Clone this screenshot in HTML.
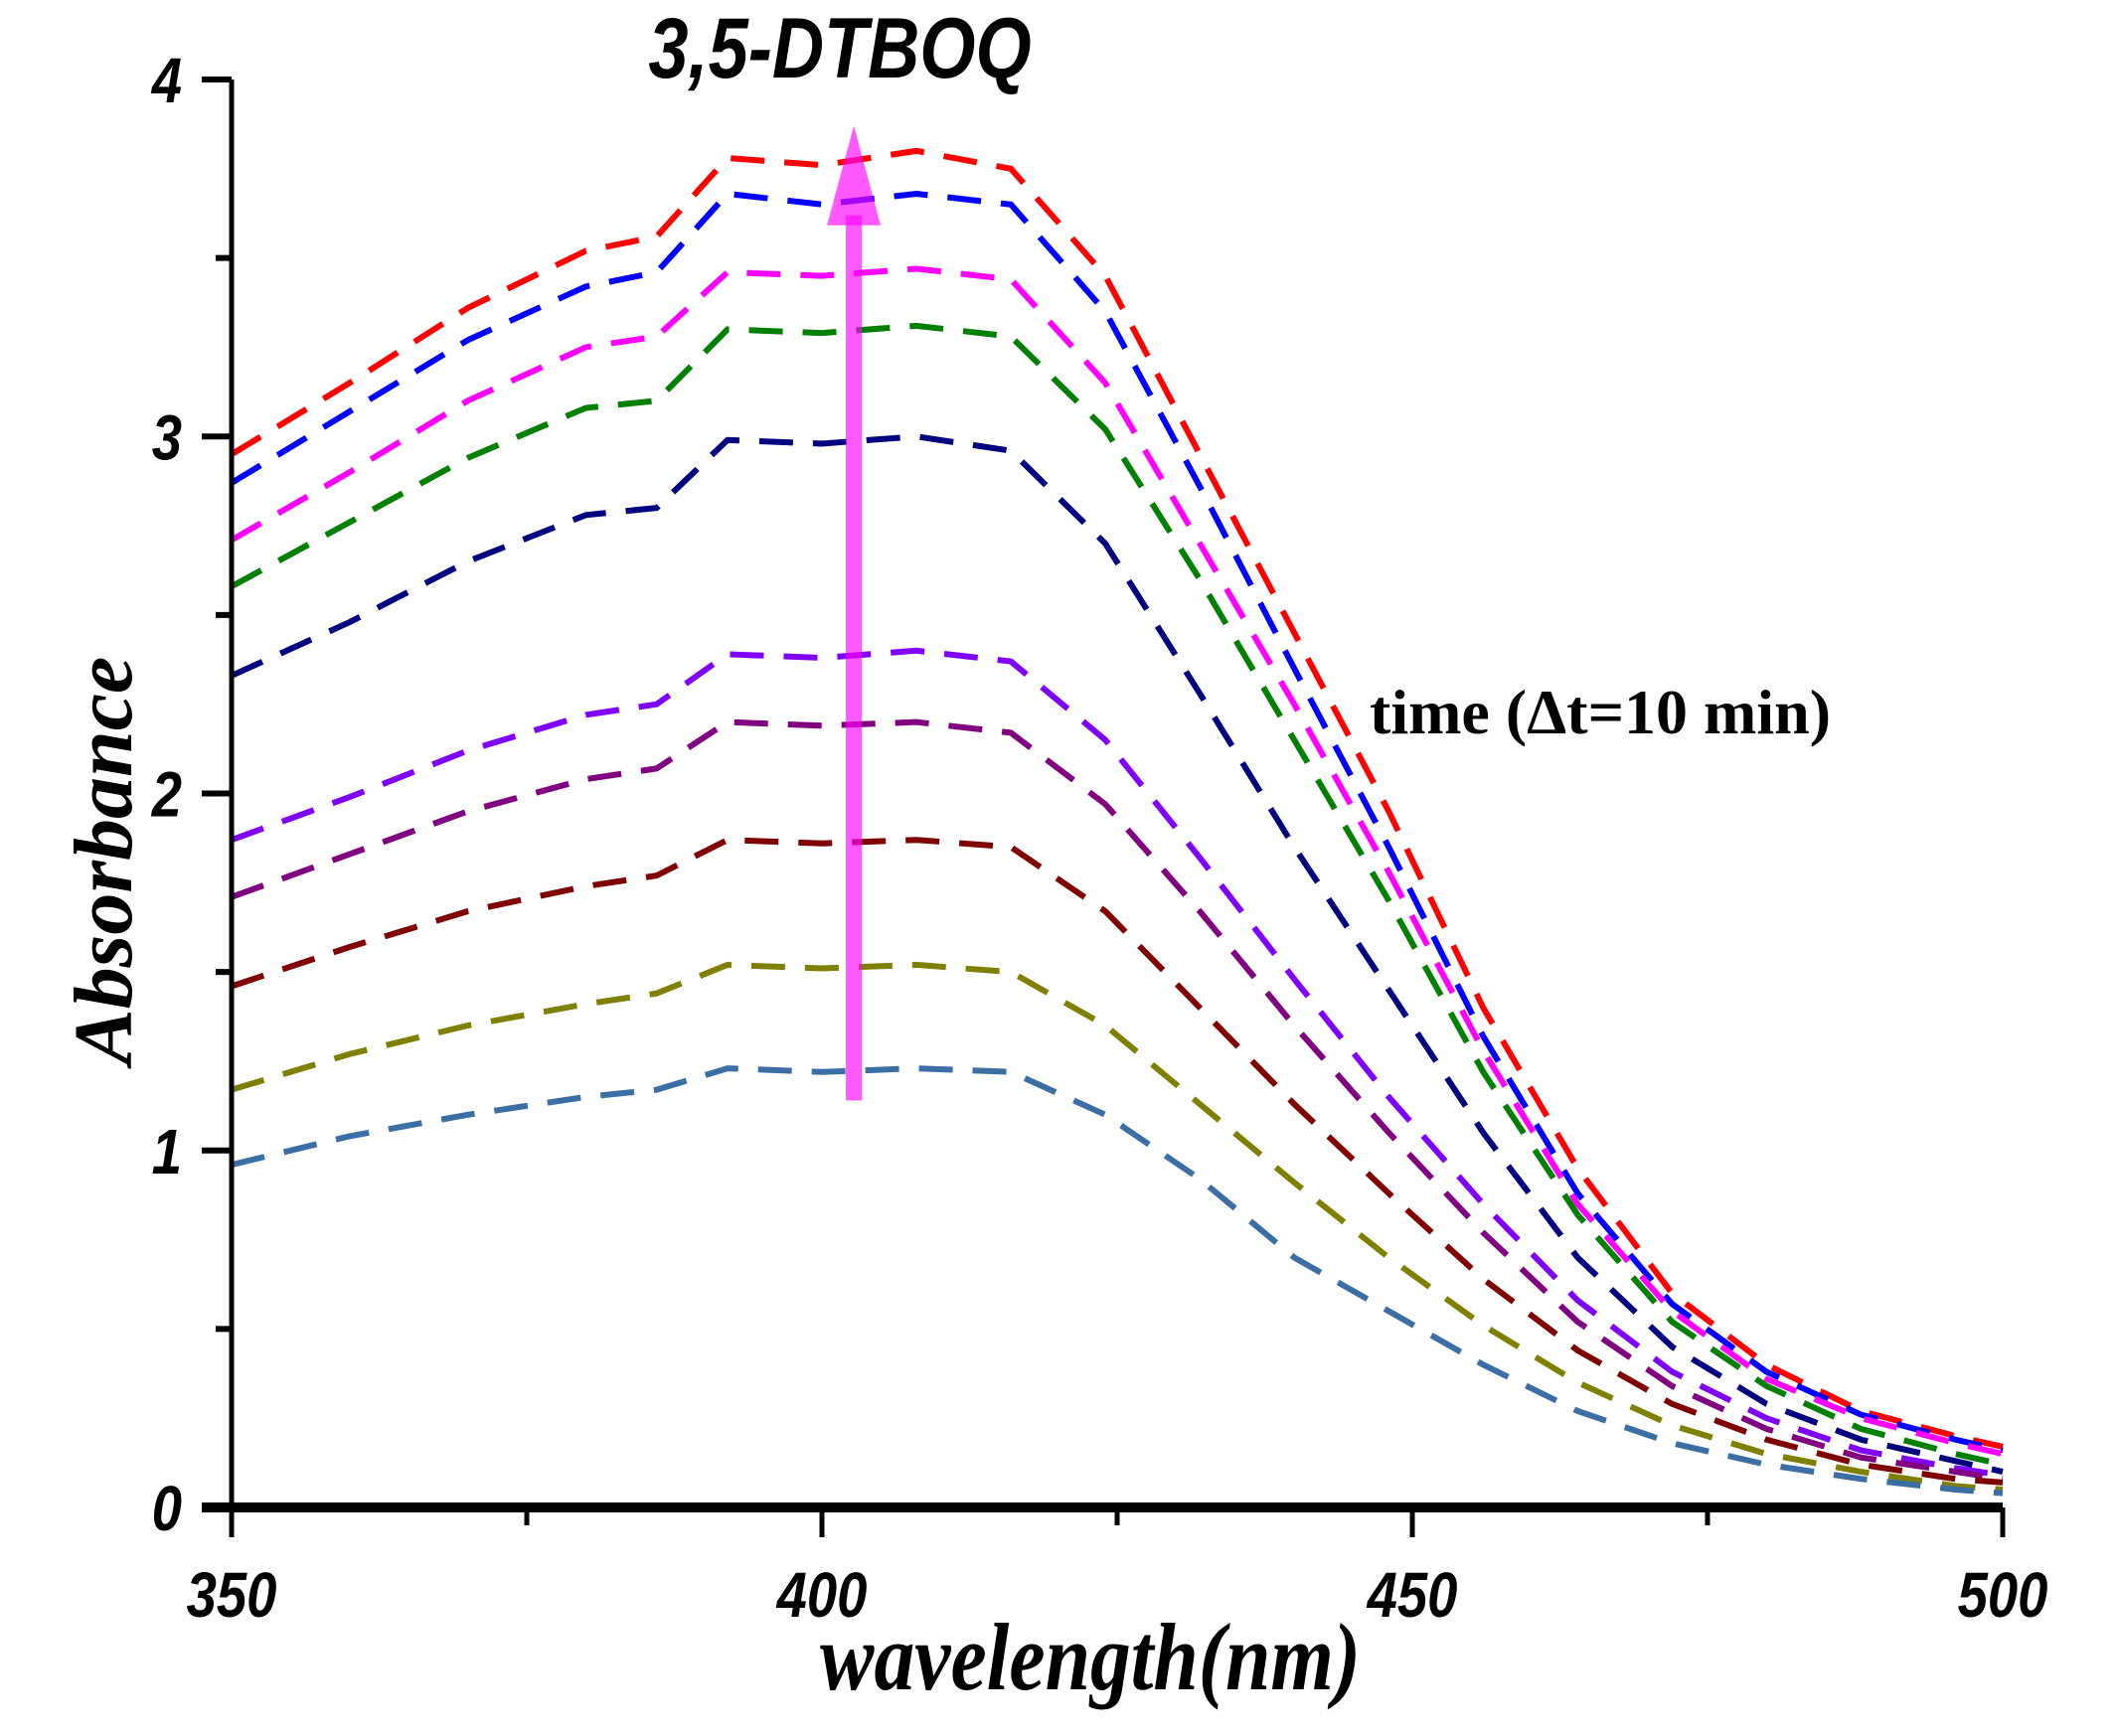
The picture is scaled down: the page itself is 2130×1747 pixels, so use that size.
<!DOCTYPE html>
<html><head><meta charset="utf-8"><style>
html,body{margin:0;padding:0;background:#fff;}
svg text{font-family:"Liberation Sans",sans-serif;}
</style></head><body>
<svg id="chart" width="2130" height="1742" viewBox="0 0 2130 1742" xmlns="http://www.w3.org/2000/svg">
<g id="series"></g>
<g id="axes"></g>
<text x="0" y="0" transform="translate(845,78) scale(0.84,1)" text-anchor="middle" font-size="86" font-weight="bold" font-style="italic">3,5-DTBOQ</text>
<text x="1378" y="738" font-size="64" font-weight="bold" style="font-family:'Liberation Serif',serif">time (Δt=10 min)</text>
<text transform="translate(132,866) rotate(-90)" text-anchor="middle" font-size="84" font-weight="bold" font-style="italic" style="font-family:'Liberation Serif',serif">Absorbance</text>
<text transform="translate(1097,1700) scale(0.85,1)" text-anchor="middle" font-size="96" font-weight="bold" font-style="italic" style="font-family:'Liberation Serif',serif">wavelength(nm)</text>
</svg>
<script>
const wavelengths=[350,360,370,380,386,392,400,408,416,424,432,440,448,456,464,472,480,488,496,500];
const seriesRed=[2.95,3.15,3.36,3.52,3.56,3.78,3.76,3.80,3.75,3.45,2.95,2.45,1.95,1.40,0.95,0.60,0.40,0.27,0.20,0.17];
const seriesBlue=[2.87,3.07,3.27,3.42,3.46,3.68,3.65,3.68,3.65,3.35,2.86,2.35,1.85,1.32,0.88,0.57,0.38,0.26,0.19,0.16];
const seriesMagenta=[2.71,2.90,3.10,3.25,3.28,3.46,3.45,3.47,3.44,3.15,2.70,2.25,1.78,1.28,0.85,0.55,0.36,0.25,0.18,0.15];
const seriesGreen=[2.58,2.76,2.94,3.08,3.10,3.30,3.29,3.31,3.28,3.02,2.60,2.15,1.70,1.22,0.82,0.52,0.34,0.22,0.15,0.12];
const seriesNavy=[2.33,2.48,2.65,2.78,2.80,2.99,2.98,3.00,2.96,2.70,2.28,1.85,1.45,1.05,0.70,0.45,0.29,0.19,0.13,0.10];
const seriesViolet=[1.87,1.99,2.12,2.22,2.25,2.39,2.38,2.40,2.37,2.15,1.82,1.48,1.15,0.85,0.58,0.38,0.25,0.16,0.11,0.09];
const seriesPurple=[1.71,1.83,1.95,2.04,2.07,2.20,2.19,2.20,2.17,1.97,1.67,1.35,1.05,0.77,0.52,0.34,0.22,0.14,0.10,0.08];
const seriesMaroon=[1.46,1.57,1.67,1.74,1.77,1.87,1.86,1.87,1.85,1.67,1.40,1.13,0.88,0.64,0.44,0.29,0.19,0.12,0.08,0.07];
const seriesOlive=[1.17,1.27,1.35,1.41,1.44,1.52,1.51,1.52,1.50,1.35,1.13,0.91,0.70,0.51,0.35,0.23,0.15,0.10,0.06,0.05];
const seriesSteel=[0.96,1.04,1.10,1.15,1.17,1.23,1.22,1.23,1.22,1.10,0.92,0.70,0.55,0.40,0.27,0.18,0.12,0.08,0.05,0.04];
const seriesNames=['red','blue','magenta','green','navy','violet','purple','maroon','olive','steel'];
const seriesColors=['#ff0000','#0000ff','#ff00ff','#008000','#000080','#8000ff','#800080','#800000','#808000','#3a6ea5'];
const xTicks=[350,400,450,500];
const xMinor=[375,425,475];
const yTicks=[0,1,2,3,4];
const yMinor=[0.5,1.5,2.5,3.5];
const arrowX=[402.7];
const arrowY=[1.14,3.87];
const X0=233,X1=2015,Y0=1517,Y1=80;
const sx=w=>X0+(w-350)/150*(X1-X0);
const sy=v=>Y0-v/4*(Y0-Y1);
const NS='http://www.w3.org/2000/svg';
const sg=document.getElementById('series');
const all=[seriesRed,seriesBlue,seriesMagenta,seriesGreen,seriesNavy,seriesViolet,seriesPurple,seriesMaroon,seriesOlive,seriesSteel];
all.forEach((s,i)=>{
  const p=document.createElementNS(NS,'polyline');
  
  
  p.setAttribute('points',s.map((v,j)=>sx(wavelengths[j])+','+sy(v)).join(' '));
  p.setAttribute('fill','none');p.setAttribute('stroke',seriesColors[i]);
  p.setAttribute('stroke-width','6');p.setAttribute('stroke-dasharray','34 20');
  sg.appendChild(p);
});
const ax=sx(arrowX[0]);
const sh=document.createElementNS(NS,'rect');


sh.setAttribute('x',ax-8);sh.setAttribute('y',sy(arrowY[1])+90);sh.setAttribute('width',16);sh.setAttribute('height',sy(arrowY[0])-sy(arrowY[1])-90);
sh.setAttribute('fill','#ff00ff');sh.setAttribute('opacity','0.65');sg.appendChild(sh);
const hd=document.createElementNS(NS,'polygon');


const ty=sy(arrowY[1]);
hd.setAttribute('points',`${ax},${ty} ${ax-27},${ty+100} ${ax+27},${ty+100}`);
hd.setAttribute('fill','#ff00ff');hd.setAttribute('opacity','0.65');sg.appendChild(hd);
const ag=document.getElementById('axes');
function ln(x1,y1,x2,y2,w,name){const l=document.createElementNS(NS,'line');


l.setAttribute('x1',x1);l.setAttribute('y1',y1);l.setAttribute('x2',x2);l.setAttribute('y2',y2);l.setAttribute('stroke','#000');l.setAttribute('stroke-width',w);ag.appendChild(l);}
function tx(x,y,s,anchor,name){const t=document.createElementNS(NS,'text');


t.setAttribute('transform',`translate(${x},${y}) scale(0.85,1)`);t.setAttribute('text-anchor',anchor);
t.setAttribute('font-size','64');t.setAttribute('font-weight','bold');t.setAttribute('font-style','italic');t.textContent=s;ag.appendChild(t);}
ln(X0,Y1,X0,Y0+4,5,'y-axis-line');
ln(X0-30,Y0,X1,Y0,10,'x-axis-line');
yTicks.forEach(v=>{ln(X0-30,sy(v),X0,sy(v),6,'y-tick');tx(X0-50,sy(v)+23,String(v),'end','y-tick-label');});
yMinor.forEach(v=>ln(X0-16,sy(v),X0,sy(v),6,'y-minor-tick'));
xTicks.forEach(v=>{ln(sx(v),Y0,sx(v),Y0+30,5,'x-tick');tx(sx(v),Y0+110,String(v),'middle','x-tick-label');});
xMinor.forEach(v=>ln(sx(v),Y0,sx(v),Y0+18,5,'x-minor-tick'));
</script>
</body></html>
